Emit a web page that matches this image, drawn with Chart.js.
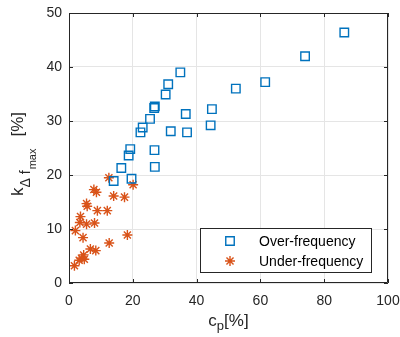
<!DOCTYPE html>
<html>
<head>
<meta charset="utf-8">
<script src="https://cdn.jsdelivr.net/npm/chart.js@4.4.0/dist/chart.umd.min.js"></script>
<style>
  html, body { margin: 0; padding: 0; background: #fff; }
  canvas { display: block; }
</style>
</head>
<body>
<canvas id="myChart" width="400" height="337"></canvas>
<script>
// values
let overX = [86.3, 74.0, 61.5, 52.3, 44.8, 44.4, 34.9, 31.1, 30.3, 26.9, 26.7, 36.6, 25.4, 23.1, 22.4, 31.9, 37.0, 19.2, 26.8, 18.7, 26.9, 16.4, 14.0, 19.6];
let overY = [46.4, 42.0, 37.2, 36.0, 32.2, 29.2, 39.0, 36.8, 34.9, 32.7, 32.4, 31.3, 30.4, 28.8, 27.9, 28.1, 27.9, 24.8, 24.6, 23.6, 21.5, 21.3, 18.9, 19.3];
let underX = [12.5, 20.1, 7.8, 8.6, 14.0, 17.4, 5.5, 5.7, 8.9, 12.0, 3.6, 3.4, 5.5, 8.0, 2.0, 4.4, 18.3, 12.6, 6.7, 8.4, 4.6, 3.9, 4.8, 3.2, 1.7];
let underY = [19.5, 18.2, 17.3, 16.8, 16.1, 15.9, 14.7, 14.2, 13.4, 13.4, 12.3, 11.2, 10.9, 11.1, 9.7, 8.4, 8.9, 7.4, 6.3, 6.0, 5.2, 4.6, 4.4, 4.2, 3.2];
let seriesNames = ['Over-frequency', 'Under-frequency'];
let xTicks = [0, 20, 40, 60, 80, 100];
let yTicks = [0, 10, 20, 30, 40, 50];

let blue = '#0072BD';
let orange = '#D95319';
let axisColor = '#262626';
let fontName = '"Liberation Sans", Arial, Helvetica, sans-serif';

let toPoints = (xs, ys) => xs.map((x, i) => ({x: x, y: ys[i]}));

// box round the axes with inward ticks on all four sides
let framePlugin = {
    id: 'frame',
    afterDatasetsDraw: (chart) => {
        let ctx = chart.ctx;
        let a = chart.chartArea;
        let xs = chart.scales.x, ys = chart.scales.y;
        let tl = 4;
        ctx.save();
        ctx.strokeStyle = axisColor;
        ctx.lineWidth = 1;
        ctx.beginPath();
        ctx.rect(a.left + 0.5, a.top + 0.5, a.right - a.left - 1, a.bottom - a.top - 1);
        xTicks.forEach(v => {
            let px = Math.round(xs.getPixelForValue(v)) + 0.5;
            ctx.moveTo(px, a.bottom); ctx.lineTo(px, a.bottom - tl);
            ctx.moveTo(px, a.top); ctx.lineTo(px, a.top + tl);
        });
        yTicks.forEach(v => {
            let py = Math.round(ys.getPixelForValue(v)) + 0.5;
            ctx.moveTo(a.left, py); ctx.lineTo(a.left + tl, py);
            ctx.moveTo(a.right, py); ctx.lineTo(a.right - tl, py);
        });
        ctx.stroke();
        ctx.restore();
    }
};

// axis titles with sub/subscripts
let drawParts = (ctx, parts, x, y) => {
    parts.forEach(p => {
        ctx.font = p.size + 'px ' + fontName;
        x += p.gap || 0;
        ctx.fillText(p.text, x, y + p.dy);
        x += ctx.measureText(p.text).width;
    });
};
let partsWidth = (ctx, parts) => {
    let w = 0;
    parts.forEach(p => {
        ctx.font = p.size + 'px ' + fontName;
        w += (p.gap || 0) + ctx.measureText(p.text).width;
    });
    return w;
};

let titlePlugin = {
    id: 'titles',
    afterDraw: (chart) => {
        let ctx = chart.ctx;
        let a = chart.chartArea;
        ctx.save();
        ctx.fillStyle = axisColor;
        ctx.textBaseline = 'alphabetic';
        ctx.textAlign = 'left';

        let xParts = [
            {text: 'c', size: 17, dy: 0},
            {text: 'p', size: 13, dy: 4},
            {text: '[%]', size: 17, dy: 0}
        ];
        let cx = (a.left + a.right) / 2;
        drawParts(ctx, xParts, cx - partsWidth(ctx, xParts) / 2, 326);

        let yParts = [
            {text: 'k', size: 17, dy: 0},
            {text: '\u0394', size: 14, dy: 7},
            {text: 'f', size: 14, dy: 7, gap: 4},
            {text: 'max', size: 11, dy: 13, gap: 1},
            {text: '[%]', size: 17, dy: 0, gap: 12}
        ];
        let cy = 154;
        ctx.translate(23, cy);
        ctx.rotate(-Math.PI / 2);
        drawParts(ctx, yParts, -partsWidth(ctx, yParts) / 2, 0);
        ctx.restore();
    }
};

// legend box in the lower right corner of the axes
let legendPlugin = {
    id: 'boxLegend',
    afterDraw: (chart) => {
        let ctx = chart.ctx;
        let a = chart.chartArea;
        let w = 171, h = 44;
        let x0 = a.right - 17 - w, y0 = a.bottom - 11 - h;
        ctx.save();
        ctx.fillStyle = '#fff';
        ctx.fillRect(x0, y0, w, h);
        ctx.strokeStyle = axisColor;
        ctx.lineWidth = 1;
        ctx.strokeRect(Math.round(x0) + 0.5, Math.round(y0) + 0.5, w, h);
        chart.data.datasets.forEach((ds, i) => {
            let ry = y0 + 13 + i * 20;
            ctx.strokeStyle = ds.borderColor;
            ctx.fillStyle = 'rgba(0,0,0,0)';
            ctx.lineWidth = ds.borderWidth;
            Chart.helpers.drawPoint(ctx, {pointStyle: ds.pointStyle, radius: ds.pointRadius, borderWidth: ds.borderWidth, rotation: 0}, x0 + 30, ry);
            ctx.fillStyle = '#000';
            ctx.font = '14px ' + fontName;
            ctx.textBaseline = 'middle';
            ctx.fillText(ds.label, x0 + 59, ry + 1);
        });
        ctx.restore();
    }
};

let ctx = document.getElementById('myChart').getContext('2d');
let chart = new Chart(ctx, {
    type: 'scatter',
    data: {
        datasets: [{
            label: seriesNames[0],
            data: toPoints(overX, overY),
            pointStyle: 'rect',
            pointRadius: 6,
            borderWidth: 1.4,
            borderColor: blue,
            backgroundColor: 'rgba(0,0,0,0)'
        }, {
            label: seriesNames[1],
            data: toPoints(underX, underY),
            pointStyle: 'star',
            pointRadius: 5,
            borderWidth: 1.4,
            borderColor: orange,
            backgroundColor: orange
        }]
    },
    options: {
        responsive: false,
        animation: false,
        devicePixelRatio: 1,
        layout: {padding: {top: 13, right: 12, left: 0, bottom: 0}},
        plugins: {legend: {display: false}, tooltip: {enabled: false}},
        scales: {
            x: {
                type: 'linear', min: 0, max: 100,
                afterBuildTicks: (s) => { s.ticks = xTicks.map(v => ({value: v})); },
                afterFit: (s) => { s.height = 54; s.paddingRight = 0; s.paddingLeft = 0; },
                ticks: {color: axisColor, font: {size: 14, family: fontName}, padding: 10, maxRotation: 0},
                grid: {color: '#e5e5e5', drawTicks: false},
                border: {display: false}
            },
            y: {
                type: 'linear', min: 0, max: 50,
                afterBuildTicks: (s) => { s.ticks = yTicks.map(v => ({value: v})); },
                afterFit: (s) => { s.width = 69; s.paddingTop = 0; s.paddingBottom = 0; },
                ticks: {color: axisColor, font: {size: 14, family: fontName}, padding: 7},
                grid: {color: '#e5e5e5', drawTicks: false},
                border: {display: false}
            }
        }
    },
    plugins: [framePlugin, titlePlugin, legendPlugin]
});
</script>
</body>
</html>
